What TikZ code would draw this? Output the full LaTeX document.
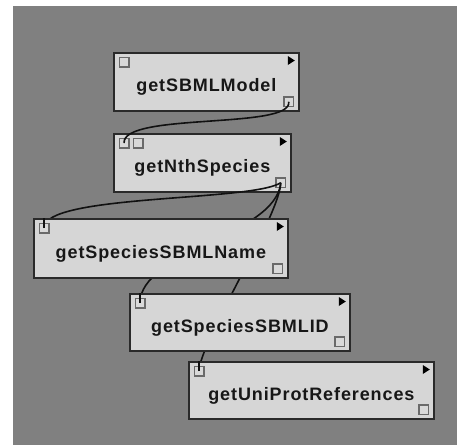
\documentclass[tikz,border=0pt]{standalone}
\usepackage{fontspec}
\usetikzlibrary{calc}
\newfontfamily\boxfont[LetterSpace=5]{Liberation Sans}

\definecolor{canvasgray}{HTML}{808080}
\definecolor{boxfill}{HTML}{D6D6D6}
\definecolor{boxedge}{HTML}{2A2A2A}
\definecolor{boxshade}{HTML}{333333}
\definecolor{portedge}{HTML}{6A6A6A}
\definecolor{portfill}{HTML}{D9D9D9}
\definecolor{wirecol}{HTML}{111111}
\definecolor{labelcol}{HTML}{171717}

\pgfdeclarelayer{low}
\pgfdeclarelayer{mid}
\pgfdeclarelayer{top}
\pgfsetlayers{low,mid,main,top}

\tikzset{
  procbox/.style={draw=boxedge, fill=boxfill, line width=1.8pt, inner sep=0pt,
    anchor=north west, text height=20pt, text depth=0pt,
    font=\boxfont\bfseries\fontsize{18}{20}\selectfont, text=labelcol,
    preaction={fill=boxshade, transform canvas={xshift=1.3pt, yshift=-1.3pt}}},
  portbox/.style={draw=portedge, fill=portfill, line width=1.6pt, inner sep=0pt,
    minimum size=9.5pt},
  runmark/.style={fill=black},
  wire/.style={draw=wirecol, line width=1.6pt},
}

% a processor box: name, left, top, width, height, label
\newcommand\procnode[6]{%
  \node[procbox, minimum width=#4pt, minimum height=#5pt] (#1) at (#2,#3) {#6};
  \node[portbox, anchor=north west] (#1-in) at ($(#1.north west)+(5.5,4.5)$) {};
  \node[portbox, anchor=south east] (#1-out) at ($(#1.south east)+(-5.5,-4.5)$) {};
  \fill[runmark] ($(#1.north east)+(-12,4)$) -- ++(7,4.5) -- ++(-7,4.5) -- cycle;
}

\begin{document}
\begin{tikzpicture}[x=1pt, y=-1pt]
\useasboundingbox (0,0) rectangle (457,445);

\begin{pgfonlayer}{low}
  \fill[white] (0,0) rectangle (457,445);
  \fill[canvasgray] (13,6) rectangle (457,445);
  \procnode{model}{113}{52}{185}{58}{getSBMLModel}
  \procnode{nth}{113}{133}{177}{58}{getNthSpecies}
  \node[portbox, anchor=north west] (nth-in2) at ($(nth.north west)+(19.5,4.5)$) {};
\end{pgfonlayer}

\procnode{name}{33}{218}{254}{59}{getSpeciesSBMLName}
\procnode{sid}{129}{293}{220}{57}{getSpeciesSBMLID}
\procnode{uni}{188}{361}{245}{57}{getUniProtReferences}

% data links run above the first two boxes and beneath the later ones
\begin{pgfonlayer}{mid}
  \draw[wire] (model-out.center) .. controls +(4,28) and +(-2,-31) .. (nth-in.center);
  \draw[wire] (nth-out.center) .. controls +(-30,19) and +(-1,-34) .. (name-in.center);
  \draw[wire] (nth-out.center) .. controls +(-5,53) and +(0,-52) .. (sid-in.center);
  \draw[wire] (nth-out.center) .. controls +(-1,33) and +(1,-30) .. (uni-in.center);
\end{pgfonlayer}

\begin{pgfonlayer}{top}
  \draw[wire] (name-in.center) -- (name-in.center |- name.north);
  \draw[wire] (sid-in.center) -- (sid-in.center |- sid.north);
  \draw[wire] (uni-in.center) -- (uni-in.center |- uni.north);
\end{pgfonlayer}
\end{tikzpicture}
\end{document}
